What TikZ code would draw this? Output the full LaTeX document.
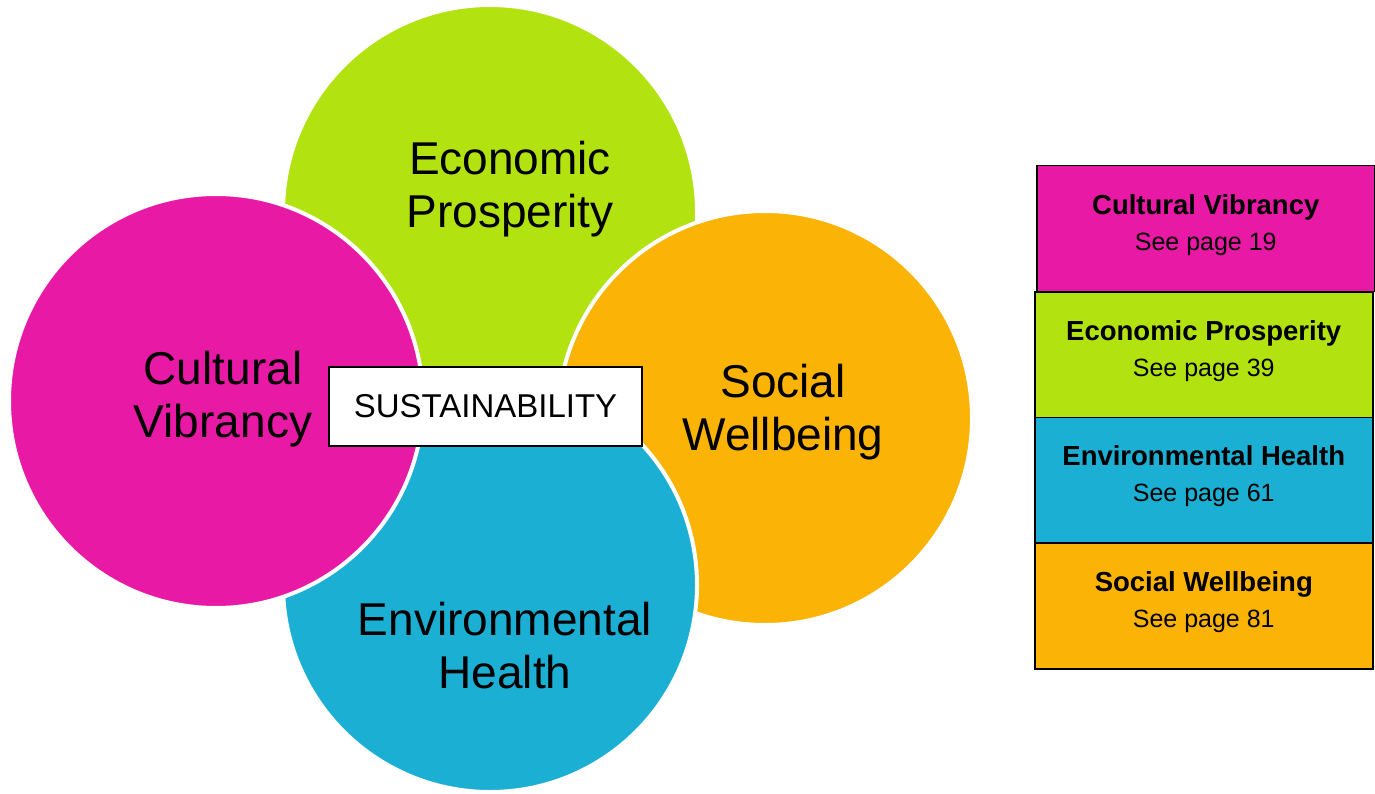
\documentclass[tikz,border=0pt]{standalone}
\usepackage{fontspec}
\setmainfont{Liberation Sans}
\definecolor{cmag}{HTML}{E819A4}
\definecolor{cgreen}{HTML}{B2E20F}
\definecolor{corange}{HTML}{FBB305}
\definecolor{cblue}{HTML}{1BAFD3}
\begin{document}
\begin{tikzpicture}[x=1pt,y=-1pt,
  circ/.style={circle,draw=white,line width=4pt,minimum size=414pt,inner sep=0pt},
  lbl/.style={align=center,font=\fontsize{46}{53}\selectfont,inner sep=0pt},
  leg/.style={draw=black,line width=1.5pt,minimum width=338pt,minimum height=125.5pt,anchor=north west,inner sep=0pt},
  legtxt/.style={align=center,inner sep=0pt,font=\fontsize{25}{36}\selectfont}]
\useasboundingbox (0,0) rectangle (1375,794);
\node[circ,fill=cgreen] (eco) at (490,212) {};
\node[circ,fill=corange] (soc) at (765,418) {};
\node[circ,fill=cblue] (env) at (490,585) {};
\node[circ,fill=cmag] (cul) at (216,401) {};
\node[lbl] (ecol) at (510,189) {Economic\\Prosperity};
\node[lbl] (socl) at (783,412) {Social\\Wellbeing};
\node[lbl] (envl) at (505,646) {Environmental\\Health};
\node[lbl] (cull) at (223,399) {Cultural\\Vibrancy};
\node[draw=black,fill=white,line width=1.5pt,minimum width=313pt,minimum height=79pt,inner sep=0pt,font=\fontsize{33}{36}\selectfont] (sus) at (485.5,406.5) {SUSTAINABILITY};
\node[leg,fill=cmag] (b1) at (1036,165) {};
\node[leg,fill=cgreen] (b2) at (1034,291) {};
\node[leg,fill=cblue] (b3) at (1034,416.5) {};
\node[leg,fill=corange] (b4) at (1034,542.5) {};
\node[legtxt] (t1) at ([yshift=-60pt]b1.north) {{\fontsize{27.5}{36}\selectfont\bfseries Cultural Vibrancy}\\See page 19};
\node[legtxt] (t2) at ([yshift=-60pt]b2.north) {{\fontsize{27.5}{36}\selectfont\bfseries Economic Prosperity}\\See page 39};
\node[legtxt] (t3) at ([yshift=-60pt]b3.north) {{\fontsize{27.5}{36}\selectfont\bfseries Environmental Health}\\See page 61};
\node[legtxt] (t4) at ([yshift=-60pt]b4.north) {{\fontsize{27.5}{36}\selectfont\bfseries Social Wellbeing}\\See page 81};
\end{tikzpicture}
\end{document}
